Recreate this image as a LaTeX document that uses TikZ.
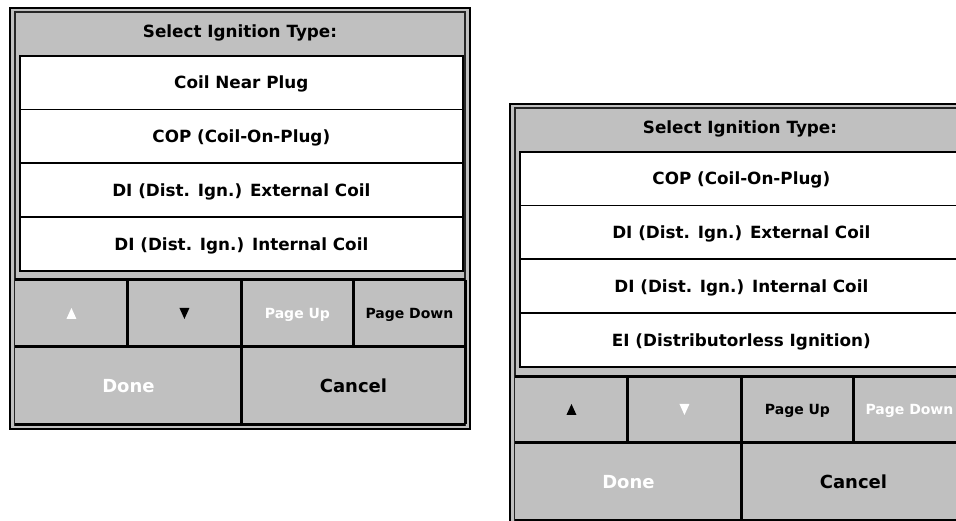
\documentclass[tikz,border=0pt]{standalone}
\usepackage{fontspec}
\setmainfont{DejaVu Sans}
\definecolor{panelgray}{HTML}{C0C0C0}
\tikzset{
  outerframe/.style={draw=black, line width=1.2pt, fill=panelgray},
  innerframe/.style={draw=black!85, line width=1.2pt},
  titletext/.style={anchor=base, inner sep=0pt, font=\bfseries\fontsize{16.8}{20}\selectfont},
  listrow/.style={draw=black, line width=1.6pt, fill=white, anchor=north west,
    minimum width=443pt, minimum height=53.75pt, inner sep=0pt,
    text height=12.2pt, text depth=0pt, font=\bfseries\fontsize{16.8}{20}\selectfont},
  btn/.style={fill=panelgray, anchor=north west, inner sep=0pt, minimum height=66.5pt,
    text height=10.2pt, text depth=0pt, font=\bfseries\fontsize{14}{16}\selectfont},
  bigbtn/.style={btn, minimum height=77.5pt, text height=13.1pt,
    font=\bfseries\fontsize{18}{21}\selectfont},
  enabled/.style={text=black},
  disabled/.style={text=white},
  gridline/.style={draw=black, line width=3pt},
}
\begin{document}
\begin{tikzpicture}[x=1pt, y=-1pt]
\useasboundingbox (0,0) rectangle (956,521);
\fill[white] (0,0) rectangle (956,521);
\clip (0,0) rectangle (956,521);

% ---------- first dialog: top of the list ----------
\begin{scope}[shift={(10,8)}]
  \draw[outerframe] (0,0) rectangle (460,421);
  \draw[innerframe] (5,4) rectangle (455,417);
  \node[titletext] (L-title) at (230,30) {Select Ignition Type:};
  \foreach \i/\t in {0/Coil Near Plug, 1/COP (Coil-On-Plug),
                     2/DI (Dist. Ign.) External Coil, 3/DI (Dist. Ign.) Internal Coil}
    \node[listrow] (L-row\i) at (9,47+\i*53.75) {\t};
  \node[btn, minimum width=112.5pt] (L-up)   at (5,272) {};
  \node[btn, minimum width=113.5pt] (L-dn)   at (117.5,272) {};
  \node[btn, minimum width=112.5pt, disabled] (L-pgup) at (231,272) {Page Up};
  \node[btn, minimum width=111.5pt, enabled]  (L-pgdn) at (343.5,272) {Page Down};
  \node[bigbtn, minimum width=226.5pt, disabled] (L-done)   at (5,338.5) {Done};
  \node[bigbtn, minimum width=223.5pt, enabled]  (L-cancel) at (231.5,338.5) {Cancel};
  \fill[white] ([shift={(-5,5.5)}]L-up.center) -- ([shift={(5,5.5)}]L-up.center)
     -- ([shift={(0,-5.5)}]L-up.center) -- cycle;
  \fill[black] ([shift={(-5,-5.5)}]L-dn.center) -- ([shift={(5,-5.5)}]L-dn.center)
     -- ([shift={(0,5.5)}]L-dn.center) -- cycle;
  \draw[gridline] (L-up.north west) -- (L-pgdn.north east);
  \draw[gridline] (L-up.south west) -- (L-pgdn.south east);
  \draw[gridline] (L-done.south west) -- (L-cancel.south east);
  \draw[gridline] (L-up.north east) -- (L-up.south east);
  \draw[gridline] (L-dn.north east) -- (L-dn.south east);
  \draw[gridline] (L-pgup.north east) -- (L-pgup.south east);
  \draw[gridline] (L-done.north east) -- (L-done.south east);
  \draw[gridline] (L-pgdn.north east) -- (L-cancel.south east);
\end{scope}

% ---------- second dialog: scrolled one entry down ----------
\begin{scope}[shift={(510,104)}]
  \draw[outerframe] (0,0) rectangle (460,421);
  \draw[innerframe] (5,4) rectangle (455,417);
  \node[titletext] (R-title) at (230,30) {Select Ignition Type:};
  \foreach \i/\t in {0/COP (Coil-On-Plug), 1/DI (Dist. Ign.) External Coil,
                     2/DI (Dist. Ign.) Internal Coil, 3/EI (Distributorless Ignition)}
    \node[listrow] (R-row\i) at (9,47+\i*53.75) {\t};
  \node[btn, minimum width=112.5pt] (R-up)   at (5,272) {};
  \node[btn, minimum width=113.5pt] (R-dn)   at (117.5,272) {};
  \node[btn, minimum width=112.5pt, enabled]  (R-pgup) at (231,272) {Page Up};
  \node[btn, minimum width=111.5pt, disabled] (R-pgdn) at (343.5,272) {Page Down};
  \node[bigbtn, minimum width=226.5pt, disabled] (R-done)   at (5,338.5) {Done};
  \node[bigbtn, minimum width=223.5pt, enabled]  (R-cancel) at (231.5,338.5) {Cancel};
  \fill[black] ([shift={(-5,5.5)}]R-up.center) -- ([shift={(5,5.5)}]R-up.center)
     -- ([shift={(0,-5.5)}]R-up.center) -- cycle;
  \fill[white] ([shift={(-5,-5.5)}]R-dn.center) -- ([shift={(5,-5.5)}]R-dn.center)
     -- ([shift={(0,5.5)}]R-dn.center) -- cycle;
  \draw[gridline] (R-up.north west) -- (R-pgdn.north east);
  \draw[gridline] (R-up.south west) -- (R-pgdn.south east);
  \draw[gridline] (R-done.south west) -- (R-cancel.south east);
  \draw[gridline] (R-up.north east) -- (R-up.south east);
  \draw[gridline] (R-dn.north east) -- (R-dn.south east);
  \draw[gridline] (R-pgup.north east) -- (R-pgup.south east);
  \draw[gridline] (R-done.north east) -- (R-done.south east);
  \draw[gridline] (R-pgdn.north east) -- (R-cancel.south east);
\end{scope}
\end{tikzpicture}
\end{document}
